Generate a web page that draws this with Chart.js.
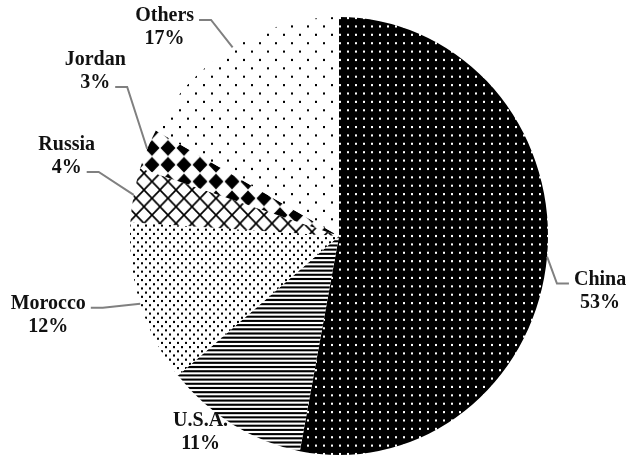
<!DOCTYPE html>
<html>
<head>
<meta charset="utf-8">
<script src="https://cdn.jsdelivr.net/npm/chart.js@4.4.0/dist/chart.umd.min.js"></script>
<style>
  html, body { margin: 0; padding: 0; background: #fff; }
  #wrap { width: 627px; height: 457px; position: relative; }
</style>
</head>
<body>
<div id="wrap"><canvas id="shareChart"></canvas></div>
<script>
const categories = ['China', 'U.S.A.', 'Morocco', 'Russia', 'Jordan', 'Others'];
const shares = [53, 11, 12, 4, 3, 17];

// the source picture is a little taller than it is wide
const Y_STRETCH = 1.048;
const LINE_H = 23;

// label block offset from the slice's outer mid point, and which line the leader hooks to
const labelPlacement = [
  { dx: 53, dy: 28, attach: 0, side: -1 },
  { dx: -32, dy: 1.5, attach: -1, side: 0 },
  { dx: -92, dy: 5, attach: 0, side: 1 },
  { dx: -67, dy: -45, attach: 1, side: 1 },
  { dx: -52, dy: -84, attach: 1, side: 1 },
  { dx: -68, dy: -26.5, attach: 0, side: 1 },
];

const canvas = document.getElementById('shareChart');
const ctx = canvas.getContext('2d');

function makePattern(size, draw) {
  const tile = document.createElement('canvas');
  tile.width = size;
  tile.height = size;
  const g = tile.getContext('2d');
  g.fillStyle = '#fff';
  g.fillRect(0, 0, size, size);
  draw(g, size);
  return ctx.createPattern(tile, 'repeat');
}

const patterns = [
  // china: white dots on black
  makePattern(8, (g) => {
    g.fillStyle = '#000';
    g.fillRect(0, 0, 8, 8);
    g.fillStyle = '#fff';
    g.fillRect(3, 3, 2, 2);
  }),
  // usa: narrow horizontal stripes
  makePattern(4, (g) => {
    g.fillStyle = '#000';
    g.fillRect(0, 0, 4, 2);
  }),
  // morocco: dense dots
  makePattern(8, (g) => {
    g.fillStyle = '#000';
    g.fillRect(1, 1, 2, 2);
    g.fillRect(5, 5, 2, 2);
  }),
  // russia: open diamonds
  makePattern(16, (g) => {
    g.strokeStyle = '#000';
    g.lineWidth = 1.6;
    g.beginPath();
    g.moveTo(0, 0); g.lineTo(16, 16);
    g.moveTo(16, 0); g.lineTo(0, 16);
    g.stroke();
  }),
  // jordan: solid diamonds
  makePattern(16, (g) => {
    g.fillStyle = '#000';
    g.beginPath();
    g.moveTo(8, 0.5); g.lineTo(15.5, 8); g.lineTo(8, 15.5); g.lineTo(0.5, 8);
    g.closePath();
    g.fill();
  }),
  // others: sparse dots
  makePattern(16, (g) => {
    g.fillStyle = '#000';
    g.fillRect(3, 3, 2, 2);
    g.fillRect(11, 11, 2, 2);
  }),
];

const stretchPlugin = {
  id: 'stretch',
  beforeDatasetsDraw(chart) {
    const arc = chart.getDatasetMeta(0).data[0];
    const c = chart.ctx;
    c.save();
    c.translate(arc.x, arc.y);
    c.scale(1, Y_STRETCH);
    c.translate(-arc.x, -arc.y);
  },
  afterDatasetsDraw(chart) {
    chart.ctx.restore();
  },
};

const labelPlugin = {
  id: 'sliceLabels',
  afterDraw(chart) {
    const c = chart.ctx;
    const arcs = chart.getDatasetMeta(0).data;
    c.save();
    c.font = 'bold 20px "Liberation Serif", serif';
    c.textAlign = 'center';
    c.textBaseline = 'alphabetic';
    arcs.forEach((arc, i) => {
      const mid = (arc.startAngle + arc.endAngle) / 2;
      const ax = arc.x + arc.outerRadius * Math.cos(mid);
      const ay = arc.y + arc.outerRadius * Math.sin(mid) * Y_STRETCH;
      const p = labelPlacement[i];
      const lx = ax + p.dx;
      const ly = ay + p.dy;
      const lines = [categories[i], shares[i] + '%'];
      c.fillStyle = '#111';
      lines.forEach((t, k) => c.fillText(t, lx, ly + k * LINE_H));
      if (p.attach >= 0) {
        const w = c.measureText(lines[p.attach]).width;
        const sy = ly + p.attach * LINE_H - 1;
        const sx = p.side > 0 ? lx + w / 2 + 5 : lx - w / 2 - 5;
        const ex = sx + p.side * 12;
        c.strokeStyle = '#808080';
        c.lineWidth = 2;
        c.beginPath();
        c.moveTo(sx, sy);
        c.lineTo(ex, sy);
        c.lineTo(ax, ay);
        c.stroke();
      }
    });
    c.restore();
  },
};

new Chart(ctx, {
  type: 'pie',
  data: {
    labels: categories,
    datasets: [{
      data: shares,
      backgroundColor: patterns,
      borderWidth: 0,
      hoverOffset: 0,
    }],
  },
  options: {
    responsive: true,
    maintainAspectRatio: false,
    animation: false,
    layout: { padding: { left: 130, right: 79, top: 27, bottom: 12 } },
    plugins: {
      legend: { display: false },
      tooltip: { enabled: false },
    },
  },
  plugins: [stretchPlugin, labelPlugin],
});
</script>
</body>
</html>
